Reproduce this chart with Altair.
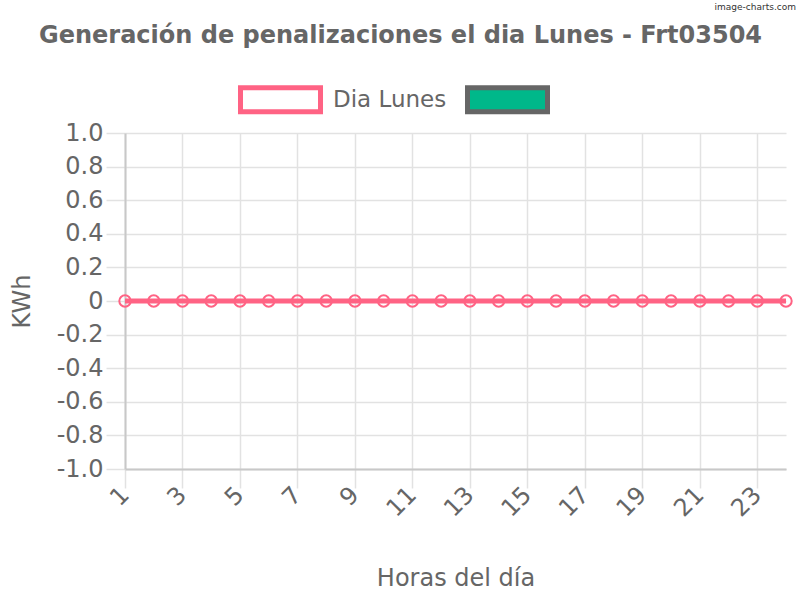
import altair as alt
import pandas as pd

# ---- data ----
hours = [1, 2, 3, 4, 5, 6, 7, 8, 9, 10, 11, 12, 13, 14, 15, 16, 17, 18, 19, 20, 21, 22, 23, 24]
values = [0, 0, 0, 0, 0, 0, 0, 0, 0, 0, 0, 0, 0, 0, 0, 0, 0, 0, 0, 0, 0, 0, 0, 0]
series_names = ["Dia Lunes", "Serie 2"]
x_tick_values = [1, 3, 5, 7, 9, 11, 13, 15, 17, 19, 21, 23]
y_tick_values = [-1.0, -0.8, -0.6, -0.4, -0.2, 0.0, 0.2, 0.4, 0.6, 0.8, 1.0]

PINK = "#ff6384"
GREEN = "#00b88a"
TEXT = "#666666"
GRID = "#e2e2e2"
FONT = "DejaVu Sans"

df = pd.DataFrame({"hora": hours, "kwh": values, "serie": series_names[0]})

x_enc = alt.X(
    "hora:Q",
    scale=alt.Scale(domain=[1, 24], nice=False, zero=False),
    axis=alt.Axis(
        values=x_tick_values,
        labelAngle=-45,
        labelBaseline="middle",
        labelAlign="right",
        title="Horas del día",
        titlePadding=45,
    ),
)
y_enc = alt.Y(
    "kwh:Q",
    scale=alt.Scale(domain=[-1, 1], nice=False),
    axis=alt.Axis(
        values=y_tick_values,
        labelExpr="datum.value == 0 ? '0' : (datum.value < 0 ? '-' + format(-datum.value, '.1f') : format(datum.value, '.1f'))",
        title="KWh",
        titlePadding=22,
    ),
)

legend = alt.Legend(
    orient="none",
    legendX=113,
    legendY=-76,
    direction="horizontal",
    title=None,
    symbolType="M-1,-0.3L1,-0.3L1,0.3L-1,0.3Z",
    symbolSize=6400,
    symbolStrokeWidth=5,
    symbolOpacity=1,
    labelFontSize=23,
    labelFont=FONT,
    labelColor=TEXT,
    labelOffset=10,
    columnPadding=10,
    labelExpr="datum.label == 'Dia Lunes' ? datum.label : ''",
)

line = alt.Chart(df).mark_line(color=PINK, strokeWidth=5).encode(x=x_enc, y=y_enc)

points = alt.Chart(df).mark_point(size=130, strokeWidth=2, opacity=1).encode(
    x=x_enc,
    y=y_enc,
    fill=alt.Fill("serie:N", scale=alt.Scale(domain=series_names, range=["rgba(255,255,255,0)", GREEN]), legend=legend),
    stroke=alt.Stroke("serie:N", scale=alt.Scale(domain=series_names, range=[PINK, "#666666"]), legend=legend),
)

watermark = alt.Chart(pd.DataFrame({"t": ["image-charts.com"]})).mark_text(
    font=FONT, fontSize=9, color="#333333", align="right", baseline="top"
).encode(text="t:N", x=alt.value(671), y=alt.value(-130))

chart = (
    alt.layer(line, points, watermark)
    .properties(
        width=661,
        height=336,
        title=alt.TitleParams(
            "Generación de penalizaciones el dia Lunes - Frt03504",
            font=FONT,
            fontSize=24,
            fontWeight="bold",
            color=TEXT,
            anchor="middle",
            dx=-55,
            offset=-45,
        ),
        autosize=alt.AutoSizeParams(type="none"),
        padding={"left": 125, "top": 133, "right": 14, "bottom": 131},
    )
    .configure_view(stroke=None)
    .configure_axis(
        labelFont=FONT,
        labelFontSize=24,
        labelColor=TEXT,
        titleFont=FONT,
        titleFontSize=24,
        titleFontWeight="normal",
        titleColor=TEXT,
        gridColor=GRID,
        gridWidth=1.5,
        tickColor=GRID,
        tickWidth=1.5,
        tickSize=19,
        labelPadding=3,
        domainColor="#c8c8c8",
        domainWidth=2,
    )
)

chart.save("out.html", embed_options={"renderer": "svg", "actions": False})
